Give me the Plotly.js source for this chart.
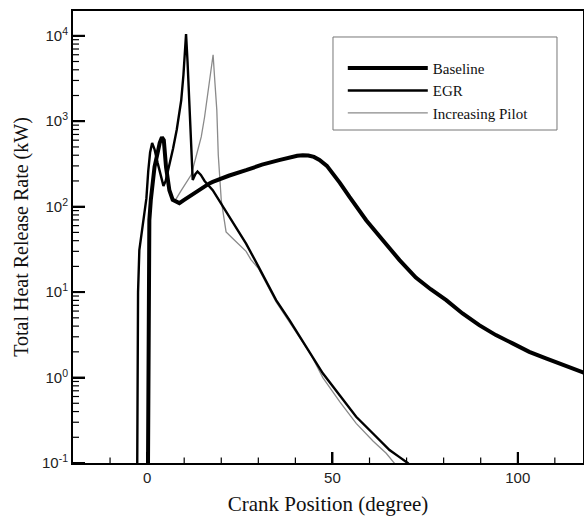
<!DOCTYPE html>
<html>
<head>
<meta charset="utf-8">
<script src="https://cdn.plot.ly/plotly-3.0.1.min.js"></script>
<style>
  html, body { margin: 0; padding: 0; background: #fff; }
  #chart { width: 584px; height: 516px; }
</style>
</head>
<body>
<div id="chart"></div>
<script>
// Crank angle (degree) and total heat release rate (kW) for each case
const baselineDeg = [0.2, 0.3, 0.35, 0.4, 0.6, 1.0, 2.0, 2.8, 3.4, 4.0, 4.5, 5.1, 6.0, 6.9, 8.0, 8.7,
  10, 12, 14, 16.8, 17.7, 22, 26.7, 31, 35.6, 39, 40.5, 42, 43.5, 45, 46.5, 48.5, 50.1, 52, 54.6,
  59.1, 63.6, 68.1, 72.5, 76.5, 80.7, 85.1, 89.6, 94.1, 98.6, 103.1, 107.6, 112.1, 117.1, 120];
const baselineKW = [0.05, 1, 10, 31, 69.5, 120, 292, 420, 560, 650, 600, 292, 156, 120, 112, 110,
  120, 137, 158, 187, 195, 230, 267, 310, 350, 383, 394, 400, 397, 382, 352, 300, 244, 190, 130,
  69.5, 40.5, 23.7, 14.8, 10.8, 8.05, 5.63, 4.11, 3.14, 2.51, 2.0, 1.68, 1.4, 1.17, 1.05];

const egrDeg = [-2.7, -2.55, -2.45, -2.1, -1.6, -1.0, -0.5, -0.2, 0.3, 0.8, 1.35, 2.0, 2.8, 3.6, 4.4,
  5.0, 5.5, 6.3, 7.0, 8.0, 8.7, 9.2, 9.8, 10.2, 10.5, 10.9, 11.4, 11.9, 12.3, 13.0, 13.6, 14.5, 15.5,
  17.7, 19.0, 22.0, 26.7, 30, 34.8, 38.4, 42, 44.2, 47.4, 52, 56.4, 61, 65.4, 68, 70.3, 72];
const egrKW = [0.05, 1, 10, 31, 45, 62, 90, 125, 260, 430, 557, 470, 330, 230, 175,
  200, 245, 360, 480, 800, 1200, 1760, 3500, 7000, 10500, 5000, 1760, 500, 205, 240, 258, 235, 200,
  156, 127, 78, 37, 20, 8.05, 4.7, 2.65, 1.87, 1.12, 0.615, 0.348, 0.22, 0.142, 0.118, 0.1, 0.085];

const pilotDeg = [0.2, 0.3, 0.35, 0.4, 0.6, 1.0, 2.0, 2.8, 3.4, 4.0, 4.5, 5.1, 6.0, 6.9, 7.5, 9.0,
  10.5, 11.9, 13.3, 14.6, 15.5, 16.3, 17.0, 17.3, 17.8, 18.3, 18.8, 19.2, 19.5, 20.0, 20.4, 21.3,
  23.1, 26.7, 28, 30, 34.8, 38.4, 42, 44.2, 47.4, 52, 56.4, 61, 64.5, 66.7, 68];
const pilotKW = [0.05, 1, 10, 31, 69.5, 120, 292, 420, 560, 650, 600, 292, 156, 120, 117, 150,
  190, 236, 400, 655, 1120, 1920, 3100, 3940, 6000, 2800, 1350, 400, 220, 119, 91, 50.7,
  42.5, 30, 24, 19, 7.7, 4.5, 2.55, 1.85, 1.0, 0.52, 0.291, 0.18, 0.13, 0.1, 0.085];

const xTicks = [0, 50, 100];
const xMinorTicks = [-10, 10, 20, 30, 40, 60, 70, 80, 90, 110];
const yTicks = [0.1, 1, 10, 100, 1000, 10000];
const yTickText = ['10<sup>-1</sup>', '10<sup>0</sup>', '10<sup>1</sup>', '10<sup>2</sup>',
  '10<sup>3</sup>', '10<sup>4</sup>'];
// in-decade ticks at 2..9 times each power of ten
const yMinorTicks = [];
for (const d of yTicks) for (let m = 2; m <= 9; m++) yMinorTicks.push(+(d * m).toPrecision(3));

const xRange = [-20, 117.6];
const yRange = [-1, 4.29];

const W = 584, H = 516;
const margin = { l: 73, r: 1, t: 11, b: 53 };
const plotW = W - margin.l - margin.r;
const plotH = H - margin.t - margin.b;

const serif = 'Times New Roman, Liberation Serif, serif';
const sans = 'Arial, Liberation Sans, sans-serif';

// Thin trace first so the heavier lines sit on top; legend order is reversed back.
const traces = [
  { x: pilotDeg, y: pilotKW, name: 'Increasing Pilot', mode: 'lines',
    line: { color: '#8a8a8a', width: 1.3 } },
  { x: egrDeg, y: egrKW, name: 'EGR', mode: 'lines',
    line: { color: '#000', width: 2.4 } },
  { x: baselineDeg, y: baselineKW, name: 'Baseline', mode: 'lines',
    line: { color: '#000', width: 4 } }
];

// Inward tick marks as small filled bars on the frame (paper units)
const fx = v => (v - xRange[0]) / (xRange[1] - xRange[0]);
const fy = v => (Math.log10(v) - yRange[0]) / (yRange[1] - yRange[0]);
const tickBars = [];
const xBar = (v, len, w) => tickBars.push({
  type: 'rect', xref: 'paper', yref: 'paper', layer: 'above',
  x0: fx(v) - w / 2 / plotW, x1: fx(v) + w / 2 / plotW, y0: 0, y1: len / plotH,
  fillcolor: '#000', line: { width: 0 }
});
const yBar = (v, len, w) => tickBars.push({
  type: 'rect', xref: 'paper', yref: 'paper', layer: 'above',
  x0: 0, x1: len / plotW, y0: fy(v) - w / 2 / plotH, y1: fy(v) + w / 2 / plotH,
  fillcolor: '#000', line: { width: 0 }
});
xTicks.forEach(v => xBar(v, 11, 2));
xMinorTicks.forEach(v => xBar(v, 5.5, 1.2));
yTicks.forEach(v => yBar(v, 12, 2));
yMinorTicks.filter(v => v < 19000).forEach(v => yBar(v, 6, 1.2));

const legendBox = {
  type: 'rect', xref: 'paper', yref: 'paper',
  x0: 0.5098, x1: 0.949, y0: 0.7367, y1: 0.9425,
  line: { color: '#777', width: 1 }, fillcolor: 'rgba(0,0,0,0)'
};

const layout = {
  width: W, height: H,
  margin: margin,
  paper_bgcolor: '#fff', plot_bgcolor: '#fff',
  showlegend: true,
  legend: {
    x: 0.529, y: 0.91, xanchor: 'left', yanchor: 'top',
    traceorder: 'reversed',
    bgcolor: 'rgba(0,0,0,0)', borderwidth: 0,
    font: { family: serif, size: 15, color: '#111' },
    itemwidth: 80
  },
  shapes: [legendBox].concat(tickBars),
  xaxis: {
    range: xRange,
    showgrid: false, zeroline: false,
    showline: true, linecolor: '#000', linewidth: 2, mirror: true,
    ticks: 'inside', ticklen: 11, tickwidth: 2, tickcolor: '#000',
    tickmode: 'array', tickvals: xTicks,
    tickfont: { family: sans, size: 15, color: '#222' },
    title: { text: 'Crank Position (degree)', font: { family: serif, size: 21, color: '#111' }, standoff: 11 }
  },
  yaxis: {
    type: 'log', range: yRange,
    showgrid: false, zeroline: false,
    showline: true, linecolor: '#000', linewidth: 2, mirror: true,
    ticks: 'inside', ticklen: 12, tickwidth: 2, tickcolor: '#000',
    tickmode: 'array', tickvals: yTicks, ticktext: yTickText,
    tickfont: { family: sans, size: 15, color: '#222' },
    title: { text: 'Total Heat Release Rate (kW)', font: { family: serif, size: 20, color: '#111' }, standoff: 8 }
  }
};

Plotly.newPlot('chart', traces, layout, { displayModeBar: false });
</script>
</body>
</html>
